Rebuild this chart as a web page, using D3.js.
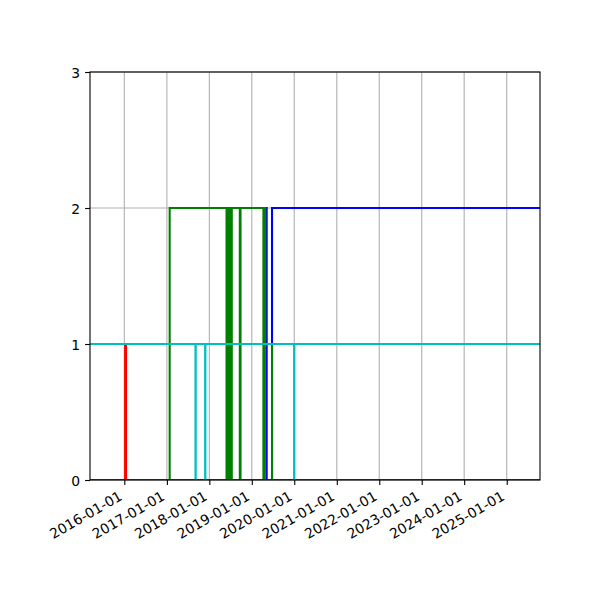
<!DOCTYPE html>
<html>
<head>
<meta charset="utf-8">
<style>
    body { margin: 0; background: #fff; }
    text { font-family: "DejaVu Sans", sans-serif; font-size: 13.9px; fill: #000; }
</style>
</head>
<body>
<script src="https://cdn.jsdelivr.net/npm/d3@7"></script>
<script>
    // x range and ticks
    var xStart = "2015-03-12", xEnd = "2025-10-14";
    var xTicks = ["2016-01-01", "2017-01-01", "2018-01-01", "2019-01-01", "2020-01-01",
        "2021-01-01", "2022-01-01", "2023-01-01", "2024-01-01", "2025-01-01"];
    var yTicks = [0, 1, 2, 3];

    // each series: [date, value] change points (value holds until next point)
    var blueSteps = [["2015-03-12", 0], ["2019-05-06", 2], ["2019-05-09", 0], ["2019-06-24", 2], ["2025-10-14", 2]];
    var greenSteps = [["2015-03-12", 0], ["2017-01-25", 2],
        ["2018-05-29", 0], ["2018-06-01", 2], ["2018-06-05", 0], ["2018-06-08", 2],
        ["2018-06-12", 0], ["2018-06-15", 2], ["2018-06-19", 0], ["2018-06-22", 2],
        ["2018-06-26", 0], ["2018-06-29", 2], ["2018-07-03", 0], ["2018-07-06", 2],
        ["2018-07-10", 0], ["2018-07-13", 2],
        ["2018-09-20", 0], ["2018-09-26", 2],
        ["2019-04-11", 0], ["2019-04-18", 2], ["2019-04-26", 1], ["2019-06-24", 0],
        ["2025-10-14", 0]];
    var redSteps = [["2015-03-12", 0], ["2016-01-08", 1], ["2016-01-16", 0], ["2025-10-14", 0]];
    var cyanSteps = [["2015-03-12", 1], ["2017-09-04", 0], ["2017-09-06", 1],
        ["2017-11-26", 0], ["2017-11-28", 1], ["2019-12-31", 0], ["2020-01-02", 1],
        ["2025-10-14", 1]];

    var series = [
        { steps: blueSteps, color: "#0000ff" },
        { steps: greenSteps, color: "#008000" },
        { steps: redSteps, color: "#ff0000" },
        { steps: cyanSteps, color: "#00bfbf" }
    ];

    var width = 600, height = 600;
    var plotLeft = 90, plotRight = 540, plotTop = 72, plotBottom = 480;
    var parse = d3.utcParse("%Y-%m-%d");

    var svg = d3.select("body").append("svg")
        .attr("width", width)
        .attr("height", height);

    var x = d3.scaleUtc()
        .domain([parse(xStart), parse(xEnd)])
        .range([plotLeft, plotRight]);
    var y = d3.scaleLinear()
        .domain([0, 3])
        .range([plotBottom, plotTop]);

    svg.append("defs").append("clipPath").attr("id", "plotclip")
        .append("rect")
        .attr("x", plotLeft).attr("y", plotTop)
        .attr("width", plotRight - plotLeft).attr("height", plotBottom - plotTop);

    var xTickDates = xTicks.map(parse);

    // grid
    svg.append("g").selectAll("line")
        .data(xTickDates)
        .enter().append("line")
        .attr("x1", d => x(d)).attr("x2", d => x(d))
        .attr("y1", plotTop).attr("y2", plotBottom)
        .style("stroke", "#b0b0b0").style("stroke-width", 1.1);
    svg.append("g").selectAll("line")
        .data(yTicks)
        .enter().append("line")
        .attr("x1", plotLeft).attr("x2", plotRight)
        .attr("y1", d => y(d)).attr("y2", d => y(d))
        .style("stroke", "#b0b0b0").style("stroke-width", 1.1);

    // lines
    var line = d3.line()
        .curve(d3.curveStepAfter)
        .x(d => x(parse(d[0])))
        .y(d => y(d[1]));

    svg.append("g").attr("clip-path", "url(#plotclip)")
        .selectAll("path")
        .data(series)
        .enter().append("path")
        .attr("d", d => line(d.steps))
        .style("fill", "none")
        .style("stroke", d => d.color)
        .style("stroke-width", 2.08)
        .style("stroke-linejoin", "miter");

    // axes
    var xAxis = svg.append("g")
        .attr("transform", "translate(0," + plotBottom + ")")
        .call(d3.axisBottom(x).tickValues(xTickDates).tickSize(4.9).tickFormat(d3.utcFormat("%Y-%m-%d")));
    xAxis.select(".domain").remove();
    xAxis.selectAll(".tick line").style("stroke", "#000").style("stroke-width", 1.1);
    xAxis.selectAll(".tick text")
        .attr("font-size", null).attr("font-family", null)
        .attr("text-anchor", "end")
        .attr("y", 0).attr("dy", null)
        .attr("transform", "translate(-1.6,19) rotate(-30)");

    var yAxis = svg.append("g")
        .attr("transform", "translate(" + plotLeft + ",0)")
        .call(d3.axisLeft(y).tickValues(yTicks).tickSize(4.9).tickPadding(4.9).tickFormat(d3.format("d")));
    yAxis.select(".domain").remove();
    yAxis.selectAll(".tick line").style("stroke", "#000").style("stroke-width", 1.1);
    yAxis.selectAll(".tick text").attr("font-size", null).attr("font-family", null).attr("dy", "0.36em");

    // spines
    svg.append("rect")
        .attr("x", plotLeft).attr("y", plotTop)
        .attr("width", plotRight - plotLeft).attr("height", plotBottom - plotTop)
        .style("fill", "none").style("stroke", "#000").style("stroke-width", 1.1);
</script>
</body>
</html>
